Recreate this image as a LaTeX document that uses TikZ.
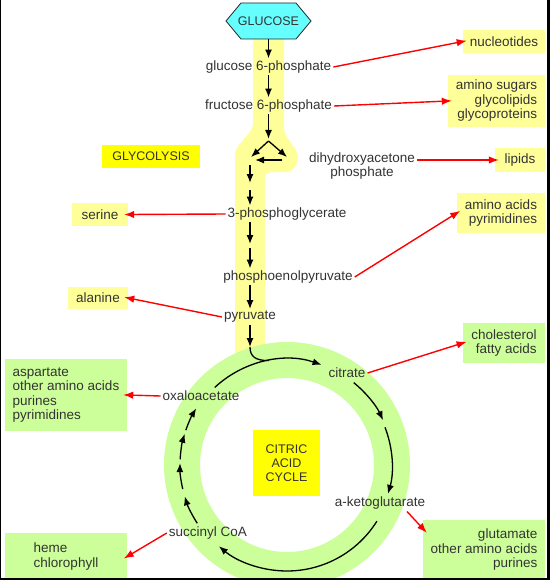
\documentclass[tikz,border=0pt]{standalone}
\usepackage{fontspec}
\setmainfont{Liberation Sans}
\usetikzlibrary{arrows.meta,calc}
\definecolor{lyel}{HTML}{FFFF99}
\definecolor{byel}{HTML}{FFFF00}
\definecolor{lgrn}{HTML}{CCFF99}
\definecolor{hexcyan}{HTML}{66FFFF}
\definecolor{txt}{HTML}{333333}
\definecolor{arrred}{HTML}{FF0000}
\begin{document}
\begin{tikzpicture}[x=1pt,y=-1pt,
  lbl/.style={font=\fontsize{13.5}{14.5}\selectfont, text=txt, inner sep=2pt},
  ybox/.style={lbl, fill=lyel, inner sep=0pt},
  gbox/.style={lbl, fill=lgrn, inner sep=0pt},
  capbox/.style={font=\fontsize{12.5}{14}\selectfont, text=txt, fill=byel, inner sep=0pt, align=center},
  blk/.style={line width=1.3pt, draw=black, -{Latex[length=9pt,width=7pt]}},
  blkline/.style={line width=1.3pt, draw=black},
  redarr/.style={draw=arrred, line width=1.4pt, -{Latex[length=10pt,width=7.5pt]}, shorten >=-4pt}
]
\useasboundingbox (0,0) rectangle (550,580);
\fill[white] (0,0) rectangle (550,580);

% glycolysis band
\fill[lyel, rounded corners=5pt] (253,36) -- (253,128) -- (235,150) -- (235,365) -- (265,365) -- (265,172) -- (292,172) -- (298,162) -- (298,153) -- (284,133) -- (284,36) -- cycle;

% citric acid cycle ring
\coordinate (cc) at (287,465);
\draw[lgrn, line width=36pt] (cc) circle[radius=105];

% glucose hexagon
\filldraw[fill=hexcyan, draw=black!85, line width=0.8pt] (226,21) -- (241,3) -- (296,3) -- (311,21) -- (296,39) -- (241,39) -- cycle;
\node[font=\fontsize{12.5}{14}\selectfont, text=txt, minimum width=85pt, minimum height=36pt, inner sep=0pt] (glucose) at (268.5,21) {GLUCOSE};

% pathway labels
\node[lbl] (g6p) at (268.5,67) {glucose 6-phosphate};
\node[lbl] (f6p) at (268.5,106) {fructose 6-phosphate};
\node[lbl, align=center] (dhap) at (362,166) {dihydroxyacetone\\phosphate};
\node[lbl] (pg3) at (287,214) {3-phosphoglycerate};
\node[lbl] (pep) at (288,277) {phosphoenolpyruvate};
\node[lbl] (pyr) at (250,317) {pyruvate};
\node[lbl] (cit) at (347,373) {citrate};
\node[lbl] (oaa) at (201,396) {oxaloacetate};
\node[lbl] (akg) at (380,503) {a-ketoglutarate};
\node[lbl] (suc) at (208,533) {succinyl CoA};

% product boxes
\node[ybox, minimum width=82pt, minimum height=23pt] (nuc) at (504,41.5) {nucleotides};
\node[ybox, minimum width=97pt, minimum height=52pt, align=right] (amino) at (496.5,101) {amino sugars\\glycolipids\\glycoproteins};
\node[ybox, minimum width=50pt, minimum height=24pt] (lip) at (520,160) {lipids};
\node[ybox, minimum width=88pt, minimum height=40pt, align=right] (aap) at (501,213) {amino acids\\pyrimidines};
\node[capbox, minimum width=98pt, minimum height=23pt] (glyc) at (151,156.5) {GLYCOLYSIS};
\node[ybox, minimum width=56pt, minimum height=23pt] (ser) at (100,214.5) {serine};
\node[ybox, minimum width=60pt, minimum height=22pt] (ala) at (98,298) {alanine};
\node[gbox, minimum width=82pt, minimum height=40pt, align=right] (chol) at (504,343) {cholesterol\\fatty acids};
\node[gbox, minimum width=122pt, minimum height=72pt, align=left] (asp) at (66,395) {aspartate\\other amino acids\\purines\\pyrimidines};
\node[gbox, minimum width=122pt, minimum height=47pt, align=left] (heme) at (66,556.5) {heme\\chlorophyll};
\node[gbox, minimum width=122pt, minimum height=60pt, align=right] (glu) at (484,550) {glutamate\\other amino acids\\purines};
\node[capbox, minimum width=67pt, minimum height=66pt] (cac) at (286.5,463) {CITRIC\\ACID\\CYCLE};

% glycolysis arrows
\coordinate (fk) at (268.5,139);
\coordinate (fks) at (268.5,141);
\coordinate (fkl) at (251,157);
\coordinate (fkr) at (287,157);
\coordinate (dh) at (282,160);
\coordinate (g3p) at (255,160);
\coordinate (c1) at (250,165);
\coordinate (c2) at (250,183);
\coordinate (c3) at (250,190);
\coordinate (c4) at (250,244);
\coordinate (c5) at (250,248);
\coordinate (pe) at (250,347);
\draw[blk] (glucose) -- (g6p);
\draw[blk] (g6p) -- (f6p);
\draw[blk] (f6p) -- (fk);
\draw[blk] (fks) -- (fkl);
\draw[blk] (fks) -- (fkr);
\draw[blk] (dh) -- (g3p);
\draw[blk] (c1) -- (c2);
\draw[blk] (c3) -- (c3 |- pg3.north);
\draw[blk] (pg3.south -| c3) -- (c4);
\draw[blk] (c5) -- (pep.north -| c5);
\draw[blk] (pep.south -| c5) -- (pyr.north);
\draw[blk] (pyr.south) -- (pe);
\coordinate (jn) at ($(cc)+(-100:106)$);
\draw[blkline] (pe) .. controls (250,357) and (256,360.5) .. (jn);

% cycle arrows
\draw[blk] ($(cc)+(-133:106)$) arc[start angle=-133, end angle=-71, radius=106];
\draw[blk] ($(cc)+(-51:106)$) arc[start angle=-51, end angle=-25, radius=106];
\draw[blk] ($(cc)+(-21:105)$) arc[start angle=-21, end angle=16, radius=105];
\draw[blk] ($(cc)+(32:106)$) arc[start angle=32, end angle=130, radius=106];
\draw[blk] ($(cc)+(-213:107)$) arc[start angle=-213, end angle=-197, radius=107];
\draw[blk] ($(cc)+(-193:107)$) arc[start angle=-193, end angle=-179, radius=107];
\draw[blk] ($(cc)+(-177:107)$) arc[start angle=-177, end angle=-163, radius=107];
\draw[blk] ($(cc)+(-161:107)$) arc[start angle=-161, end angle=-148, radius=107];

% red arrows
\draw[redarr] (g6p.east) -- (nuc.west);
\draw[redarr] (f6p.east) -- (amino.west);
\draw[redarr] (dhap.east |- lip.west) -- (lip.west);
\draw[redarr] (pep.east) -- (aap.west);
\draw[redarr] (pg3.west) -- (ser.east);
\draw[redarr] (pyr.west) -- (ala.east);
\draw[redarr] (cit.east) -- (chol.west);
\draw[redarr] (oaa.west) -- (asp.east);
\draw[redarr] (suc.west) -- (heme.east);
\draw[redarr, shorten >=0pt] ([xshift=27pt]akg.south) -- ([shift={(4,13)}]glu.north west);

% frame
\fill[black] (0,0) rectangle (1.2,580);
\fill[black] (547,0) rectangle (550,580);
\fill[black] (0,578) rectangle (550,580);
\end{tikzpicture}
\end{document}
